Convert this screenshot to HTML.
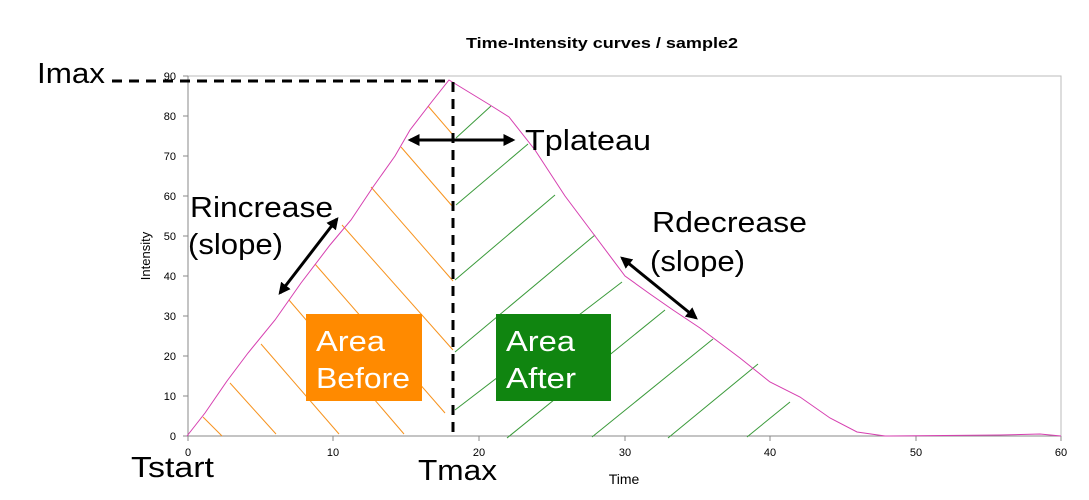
<!DOCTYPE html>
<html><head><meta charset="utf-8"><style>
body{margin:0;background:#fff;}
svg{display:block;font-family:"Liberation Sans",sans-serif;}
.big{font-size:29px;fill:#000;}
.tk{font-size:11px;fill:#000;}
</style></head><body>
<svg width="1089" height="500" viewBox="0 0 1089 500">
<defs><marker id="a" viewBox="0 0 10 10" refX="8" refY="5" markerWidth="4" markerHeight="4" orient="auto-start-reverse"><path d="M0,0 L10,5 L0,10 z" fill="#000"/></marker></defs>
<text x="466" y="48" font-size="15" font-weight="bold" textLength="272" lengthAdjust="spacingAndGlyphs">Time-Intensity curves / sample2</text>
<rect x="188" y="76" width="873" height="360" fill="none" stroke="#bbb" stroke-width="1"/>
<line x1="188" y1="76" x2="188" y2="436" stroke="#888"/>
<line x1="188" y1="436" x2="1061" y2="436" stroke="#888"/>
<g stroke="#888">
<line x1="183" y1="76" x2="188" y2="76"/><line x1="183" y1="116" x2="188" y2="116"/><line x1="183" y1="156" x2="188" y2="156"/><line x1="183" y1="196" x2="188" y2="196"/><line x1="183" y1="236" x2="188" y2="236"/><line x1="183" y1="276" x2="188" y2="276"/><line x1="183" y1="316" x2="188" y2="316"/><line x1="183" y1="356" x2="188" y2="356"/><line x1="183" y1="396" x2="188" y2="396"/><line x1="183" y1="436" x2="188" y2="436"/>
<line x1="188" y1="436" x2="188" y2="441"/><line x1="333" y1="436" x2="333" y2="441"/><line x1="479" y1="436" x2="479" y2="441"/><line x1="625" y1="436" x2="625" y2="441"/><line x1="770" y1="436" x2="770" y2="441"/><line x1="916" y1="436" x2="916" y2="441"/><line x1="1061" y1="436" x2="1061" y2="441"/>
</g>
<g class="tk" text-anchor="end">
<text x="176" y="80">90</text><text x="176" y="120">80</text><text x="176" y="160">70</text><text x="176" y="200">60</text><text x="176" y="240">50</text><text x="176" y="280">40</text><text x="176" y="320">30</text><text x="176" y="360">20</text><text x="176" y="400">10</text><text x="176" y="440">0</text>
</g>
<g class="tk" text-anchor="middle">
<text x="188" y="456">0</text><text x="333" y="456">10</text><text x="479" y="456">20</text><text x="625" y="456">30</text><text x="770" y="456">40</text><text x="916" y="456">50</text><text x="1061" y="456">60</text>
</g>
<text x="624" y="484" text-anchor="middle" font-size="14">Time</text>
<text transform="translate(150,256) rotate(-90)" text-anchor="middle" font-size="13">Intensity</text>
<g stroke="#f7931e" stroke-width="1">
<line x1="203" y1="417" x2="222" y2="436"/><line x1="230" y1="383" x2="276" y2="434"/><line x1="261" y1="344" x2="339" y2="434"/><line x1="289" y1="300" x2="404" y2="434"/><line x1="315" y1="264" x2="445" y2="413"/><line x1="342" y1="225" x2="453" y2="350"/><line x1="371" y1="187" x2="453" y2="281"/><line x1="401" y1="147" x2="453" y2="207"/><line x1="428" y1="106" x2="453" y2="135"/>
</g>
<g stroke="#3a9a3a" stroke-width="1">
<line x1="456" y1="138" x2="491" y2="106"/><line x1="456" y1="205" x2="528" y2="144"/><line x1="455" y1="280" x2="555" y2="195"/><line x1="455" y1="352" x2="595" y2="235"/><line x1="455" y1="410" x2="622" y2="282"/><line x1="507" y1="438" x2="665" y2="310"/><line x1="592" y1="437" x2="713" y2="339"/><line x1="668" y1="438" x2="758" y2="364"/><line x1="747" y1="437" x2="790" y2="402"/>
</g>
<polyline fill="none" stroke="#d63fb0" stroke-width="1" points="187,436 205,413 227,381 248,353 275,320 301,283 330,245 351,220 373,187 395,156 410,130 430,104 449,80 490,105 509,117 535,150 565,196 595,236 625,276 650,294 673,310 700,328 740,358 770,382 800,397 830,418 857,432 885,436 1000,435 1040,434 1061,436"/>
<line x1="112" y1="81" x2="449" y2="81" stroke="#000" stroke-width="3" stroke-dasharray="10,7"/>
<line x1="453" y1="82" x2="453" y2="436" stroke="#000" stroke-width="3" stroke-dasharray="10,7"/>
<g stroke="#000" stroke-width="3">
<line x1="280" y1="293" x2="337" y2="219" marker-start="url(#a)" marker-end="url(#a)"/>
<line x1="410" y1="140" x2="513" y2="140" marker-start="url(#a)" marker-end="url(#a)"/>
<line x1="622" y1="258" x2="696" y2="318" marker-start="url(#a)" marker-end="url(#a)"/>
</g>
<rect x="306" y="314" width="116" height="87" fill="#ff8a00"/>
<rect x="496" y="314" width="115" height="87" fill="#108510"/>
<g class="big" style="fill:#fff">
<text x="316" y="351" textLength="69" lengthAdjust="spacingAndGlyphs">Area</text><text x="316" y="388" textLength="94" lengthAdjust="spacingAndGlyphs">Before</text>
<text x="506" y="351" textLength="69" lengthAdjust="spacingAndGlyphs">Area</text><text x="506" y="388" textLength="70" lengthAdjust="spacingAndGlyphs">After</text>
</g>
<g class="big">
<text x="37" y="83" textLength="68" lengthAdjust="spacingAndGlyphs">Imax</text>
<text x="190" y="217" textLength="143" lengthAdjust="spacingAndGlyphs">Rincrease</text><text x="188" y="254" textLength="95" lengthAdjust="spacingAndGlyphs">(slope)</text>
<text x="525" y="150" textLength="126" lengthAdjust="spacingAndGlyphs">Tplateau</text>
<text x="652" y="232" textLength="155" lengthAdjust="spacingAndGlyphs">Rdecrease</text><text x="650" y="271" textLength="95" lengthAdjust="spacingAndGlyphs">(slope)</text>
<text x="131" y="477" textLength="83" lengthAdjust="spacingAndGlyphs">Tstart</text>
<text x="418" y="480" textLength="79" lengthAdjust="spacingAndGlyphs">Tmax</text>
</g>
</svg>
</body></html>
